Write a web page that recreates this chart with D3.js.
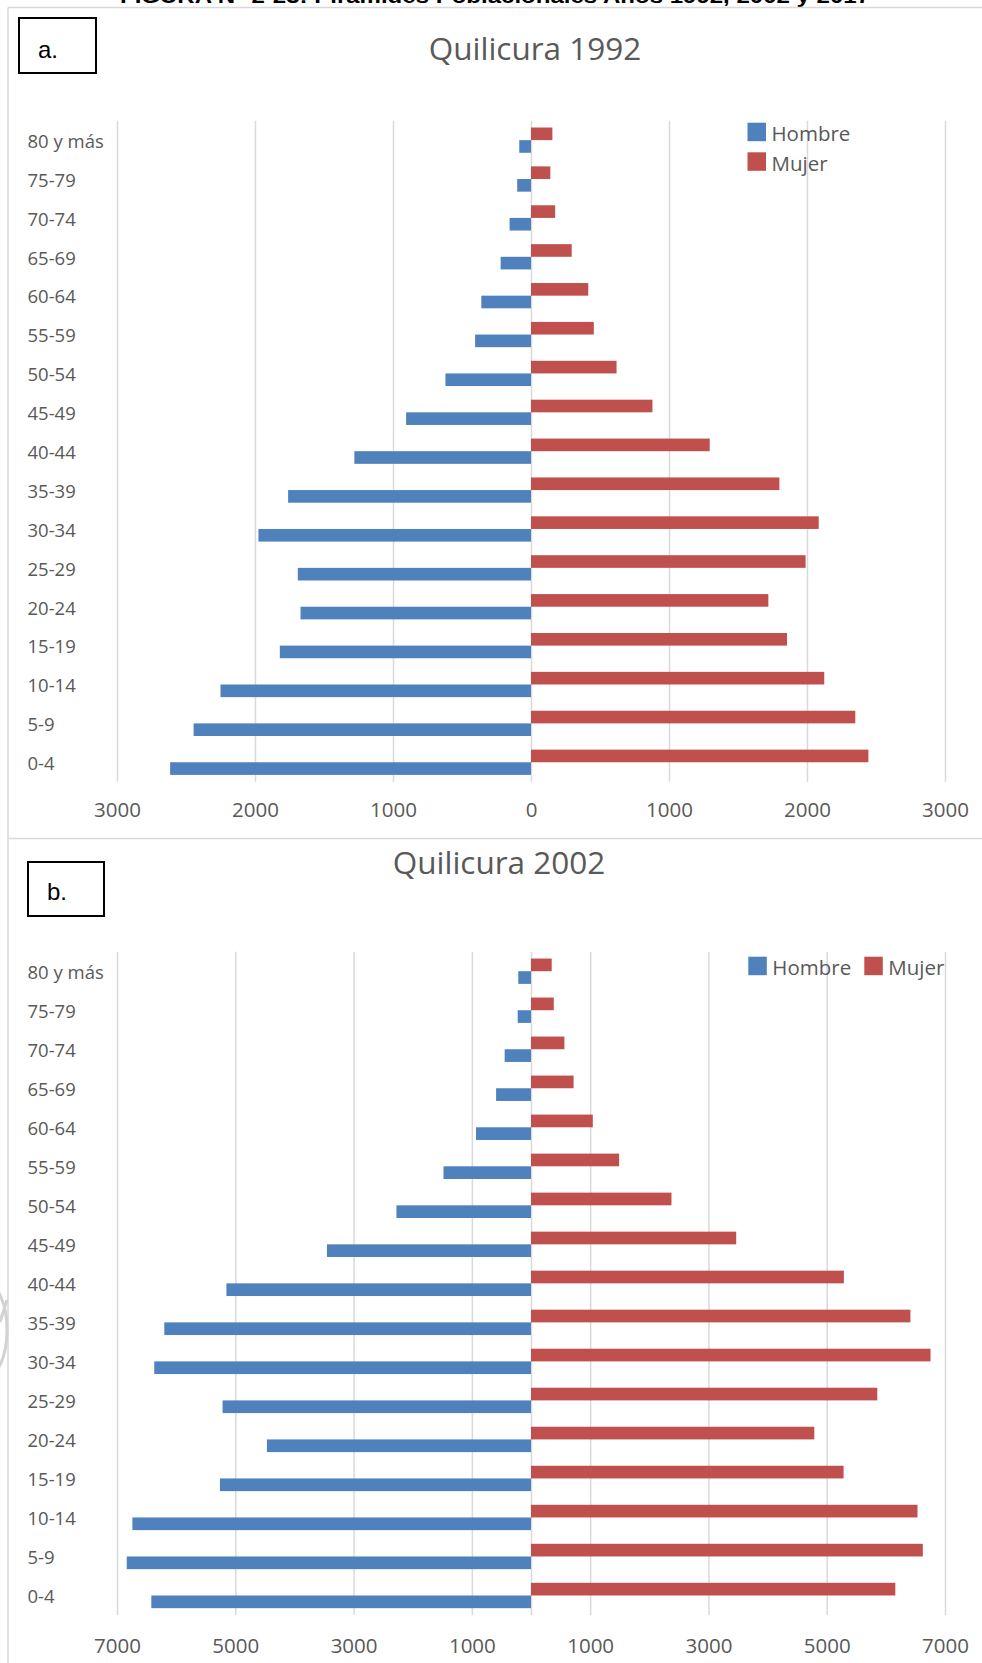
<!DOCTYPE html>
<html lang="es">
<head>
<meta charset="utf-8">
<script src="https://cdn.jsdelivr.net/npm/d3@7"></script>
<style>
  html, body { margin: 0; padding: 0; background: #ffffff; }
  svg { display: block; }
  text { font-family: "Open Sans", "Noto Sans", sans-serif; }
</style>
</head>
<body>
<svg id="fig" width="982" height="1663"></svg>
<script>
// Age groups, top (oldest) to bottom (youngest)
const ageGroups = ["80 y más", "75-79", "70-74", "65-69", "60-64", "55-59", "50-54",
  "45-49", "40-44", "35-39", "30-34", "25-29", "20-24", "15-19", "10-14", "5-9", "0-4"];

const seriesNames = ["Hombre", "Mujer"];
const seriesColors = ["#4f81bd", "#c0504d"];

// Population by age group, Quilicura 1992
const hombre1992 = [85, 100, 155, 220, 360, 405, 620, 905, 1280, 1760, 1975, 1690, 1670, 1820, 2250, 2445, 2615];
const mujer1992 = [155, 140, 175, 295, 415, 455, 620, 880, 1295, 1800, 2085, 1990, 1720, 1855, 2125, 2350, 2445];

// Population by age group, Quilicura 2002
const hombre2002 = [215, 225, 445, 590, 930, 1480, 2275, 3450, 5150, 6200, 6370, 5215, 4465, 5260, 6740, 6835, 6420];
const mujer2002 = [350, 385, 565, 720, 1045, 1490, 2375, 3470, 5290, 6415, 6755, 5855, 4790, 5285, 6535, 6625, 6160];

// Axis ticks
const ticks1992 = [-3000, -2000, -1000, 0, 1000, 2000, 3000];
const ticks2002 = [-7000, -5000, -3000, -1000, 1000, 3000, 5000, 7000];

const captionText = "FIGURA N° 2-23: Pirámides Poblacionales Años 1992, 2002 y 2017";

const svg = d3.select("#fig");
const frameColor = "#d9d9d9";
const gridColor = "#d9d9d9";
const textColor = "#595959";

// Document caption (runs off the top of the page)
svg.append("text")
  .attr("x", 120).attr("y", 3)
  .style("font-family", "'Liberation Sans', Arial, sans-serif")
  .attr("font-weight", "bold")
  .attr("font-size", 20)
  .attr("textLength", 750)
  .attr("lengthAdjust", "spacingAndGlyphs")
  .attr("fill", "#000")
  .text(captionText);

// Chart frames
svg.append("line").attr("x1", 8).attr("x2", 982).attr("y1", 7.5).attr("y2", 7.5)
  .attr("stroke", frameColor).attr("stroke-width", 1.5);
svg.append("line").attr("x1", 8).attr("x2", 8).attr("y1", 7.5).attr("y2", 1663)
  .attr("stroke", frameColor).attr("stroke-width", 1.5);
svg.append("line").attr("x1", 8).attr("x2", 982).attr("y1", 838.5).attr("y2", 838.5)
  .attr("stroke", frameColor).attr("stroke-width", 1.5);

// Faint stamp at the left margin
svg.append("ellipse")
  .attr("cx", -14).attr("cy", 1330).attr("rx", 21).attr("ry", 47)
  .attr("fill", "none").attr("stroke", "#d2d2d2").attr("stroke-width", 3);
svg.append("line").attr("x1", 0).attr("y1", 1322).attr("x2", 7).attr("y2", 1300)
  .attr("stroke", "#d2d2d2").attr("stroke-width", 3);

function drawPyramid(cfg) {
  const g = svg.append("g");
  const x = d3.scaleLinear().domain(cfg.domain).range([117, 945]);
  const y = d3.scaleBand().domain(ageGroups)
    .range([cfg.top, cfg.bottom]).paddingInner(0.35).paddingOuter(0.175);
  const sub = d3.scaleBand().domain(["Mujer", "Hombre"]).range([0, y.bandwidth()]);

  // Letter box
  g.append("rect")
    .attr("x", cfg.box[0]).attr("y", cfg.box[1])
    .attr("width", cfg.box[2]).attr("height", cfg.box[3])
    .attr("fill", "#fff").attr("stroke", "#000").attr("stroke-width", 2);
  g.append("text")
    .attr("x", cfg.letterPos[0]).attr("y", cfg.letterPos[1])
    .style("font-family", "'Liberation Sans', Arial, sans-serif")
    .attr("font-size", 24).attr("fill", "#000")
    .text(cfg.letter);

  // Title
  g.append("text")
    .attr("x", cfg.titlePos[0]).attr("y", cfg.titlePos[1])
    .attr("text-anchor", "middle")
    .attr("font-size", 31.5).attr("fill", textColor)
    .text(cfg.title);

  // Vertical gridlines and zero axis via d3 axis
  const gridVals = cfg.ticks.includes(0) ? cfg.ticks : cfg.ticks.concat([0]);
  const grid = g.append("g")
    .attr("transform", `translate(0,${cfg.bottom})`)
    .call(d3.axisBottom(x).tickValues(gridVals)
      .tickSize(-(cfg.bottom - cfg.top)).tickFormat(""));
  grid.select(".domain").remove();
  grid.selectAll(".tick line").attr("stroke", gridColor).attr("stroke-width", 1.5);

  // Tick labels
  const lab = g.append("g")
    .attr("transform", `translate(0,${cfg.tickBaseline})`)
    .call(d3.axisBottom(x).tickValues(cfg.ticks).tickSize(0)
      .tickFormat(d => String(Math.abs(d))));
  lab.select(".domain").remove();
  lab.selectAll(".tick text")
    .attr("y", 0).attr("dy", 0)
    .attr("font-size", 20.5)
    .attr("fill", textColor)
    .style("font-family", "'Open Sans', sans-serif");

  // Category labels
  g.append("g").selectAll("text")
    .data(ageGroups)
    .join("text")
    .attr("x", 27.5)
    .attr("y", d => y(d) + y.bandwidth() / 2 + 7.8)
    .attr("font-size", 18.5)
    .attr("fill", textColor)
    .text(d => d);

  // Bars
  const rows = ageGroups.map((a, i) => ({ age: a, Hombre: cfg.hombre[i], Mujer: cfg.mujer[i] }));
  g.append("g").selectAll("rect")
    .data(rows)
    .join("rect")
    .attr("x", d => x(-d.Hombre))
    .attr("y", d => y(d.age) + sub("Hombre"))
    .attr("width", d => x(0) - x(-d.Hombre))
    .attr("height", sub.bandwidth())
    .attr("fill", seriesColors[0]);
  g.append("g").selectAll("rect")
    .data(rows)
    .join("rect")
    .attr("x", x(0))
    .attr("y", d => y(d.age) + sub("Mujer"))
    .attr("width", d => x(d.Mujer) - x(0))
    .attr("height", sub.bandwidth())
    .attr("fill", seriesColors[1]);

  // Legend
  const leg = g.append("g");
  seriesNames.forEach((name, i) => {
    const p = cfg.legend[i];
    leg.append("rect")
      .attr("x", p[0]).attr("y", p[1]).attr("width", 18.5).attr("height", 18.5)
      .attr("fill", seriesColors[i]);
    leg.append("text")
      .attr("x", p[0] + 24).attr("y", p[1] + 18.5)
      .attr("font-size", 20.5).attr("fill", textColor)
      .text(name);
  });
}

drawPyramid({
  title: "Quilicura 1992", titlePos: [535, 60],
  letter: "a.", box: [19, 18, 77, 55], letterPos: [38, 58],
  domain: [-3000, 3000], ticks: ticks1992,
  top: 120.7, bottom: 781.7, tickBaseline: 817.3,
  hombre: hombre1992, mujer: mujer1992,
  legend: [[747.5, 122.7], [747.5, 152.3]]
});

drawPyramid({
  title: "Quilicura 2002", titlePos: [499, 874],
  letter: "b.", box: [28, 862, 76, 54], letterPos: [47, 900],
  domain: [-7000, 7000], ticks: ticks2002,
  top: 951.7, bottom: 1615, tickBaseline: 1653.3,
  hombre: hombre2002, mujer: mujer2002,
  legend: [[748.3, 956.7], [864.3, 956.7]]
});
</script>
</body>
</html>
